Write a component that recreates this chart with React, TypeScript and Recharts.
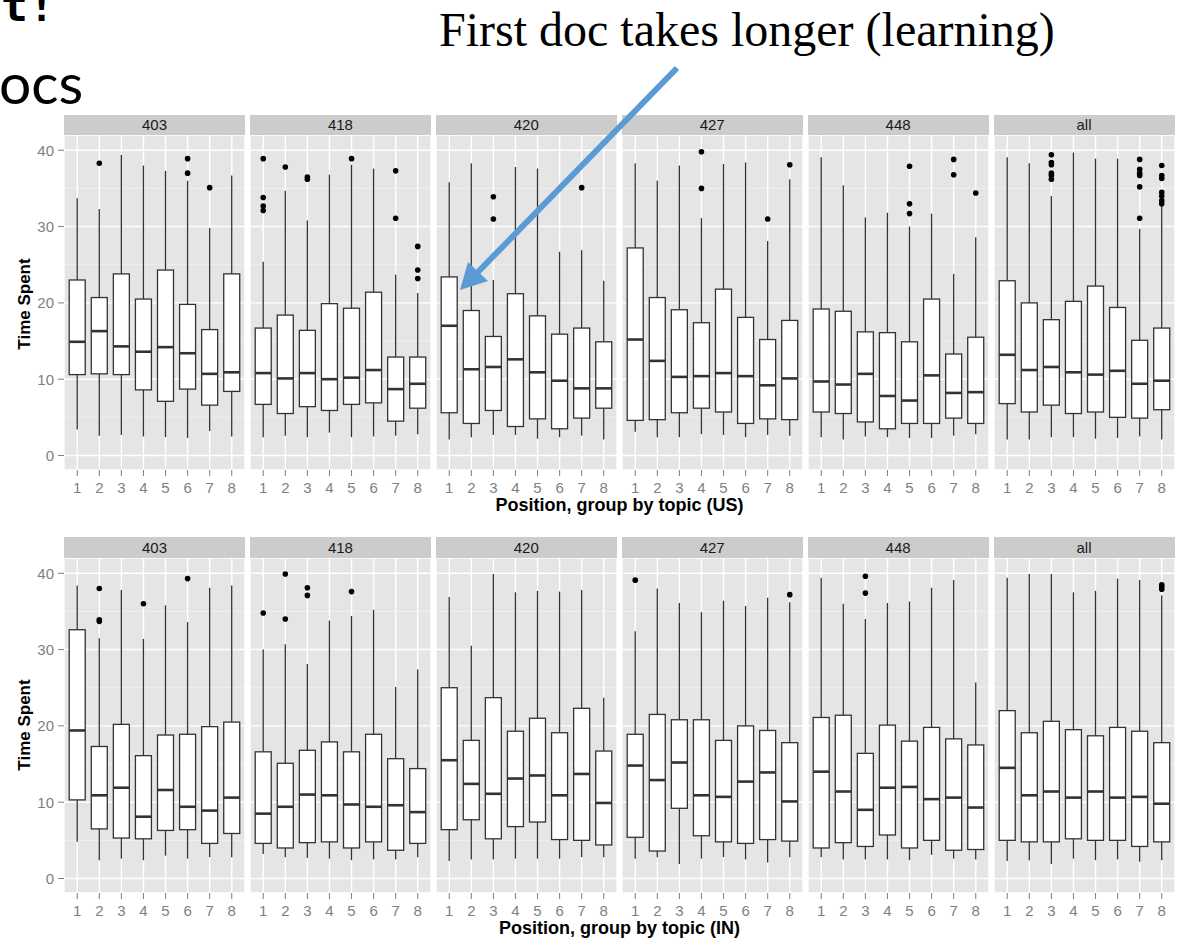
import { ComposedChart, Bar, Scatter, XAxis, YAxis, CartesianGrid } from "recharts";

// Each box: [lower whisker, Q1, median, Q3, upper whisker] for positions 1..8
const positions = [1, 2, 3, 4, 5, 6, 7, 8];
const topics = ["403", "418", "420", "427", "448", "all"];
const yTicks = [0, 10, 20, 30, 40];
const yMinorTicks = [5, 15, 25, 35];

// US group
const us403 = [
  [3.4, 10.6, 14.9, 23.0, 33.7],
  [2.6, 10.7, 16.3, 20.7, 32.3],
  [2.7, 10.6, 14.3, 23.8, 39.4],
  [2.5, 8.6, 13.6, 20.5, 38.0],
  [2.4, 7.1, 14.2, 24.3, 37.3],
  [2.3, 8.7, 13.4, 19.8, 36.0],
  [3.2, 6.6, 10.7, 16.5, 29.8],
  [2.5, 8.4, 10.9, 23.8, 36.7],
];
const us418 = [
  [2.4, 6.7, 10.8, 16.7, 25.4],
  [2.6, 5.5, 10.1, 18.4, 34.7],
  [2.4, 6.4, 10.8, 16.4, 30.8],
  [3.0, 5.9, 10.0, 19.9, 36.8],
  [2.4, 6.7, 10.2, 19.3, 38.1],
  [2.5, 6.9, 11.2, 21.4, 37.6],
  [2.6, 4.5, 8.7, 12.9, 23.7],
  [2.8, 6.2, 9.4, 12.9, 21.3],
];
const us420 = [
  [2.1, 5.6, 17.0, 23.4, 35.8],
  [2.4, 4.2, 11.3, 19.0, 38.3],
  [2.7, 5.9, 11.6, 15.6, 23.0],
  [2.7, 3.8, 12.6, 21.2, 37.8],
  [2.2, 4.8, 10.9, 18.3, 37.6],
  [2.4, 3.5, 9.8, 15.9, 26.7],
  [2.6, 4.9, 8.8, 16.7, 26.9],
  [2.1, 6.2, 8.8, 14.9, 22.9],
];
const us427 = [
  [3.1, 4.6, 15.2, 27.2, 38.3],
  [2.4, 4.7, 12.4, 20.7, 36.0],
  [2.4, 5.6, 10.3, 19.1, 38.0],
  [2.8, 6.2, 10.4, 17.4, 31.1],
  [2.7, 5.7, 10.8, 21.8, 38.2],
  [2.4, 4.2, 10.4, 18.1, 38.4],
  [2.7, 4.8, 9.2, 15.2, 28.1],
  [2.6, 4.7, 10.1, 17.7, 36.2],
];
const us448 = [
  [2.4, 5.7, 9.7, 19.2, 39.1],
  [2.1, 5.5, 9.3, 18.9, 35.4],
  [2.5, 4.4, 10.7, 16.2, 31.2],
  [2.4, 3.5, 7.8, 16.1, 31.8],
  [2.3, 4.2, 7.2, 14.9, 30.0],
  [2.3, 4.2, 10.5, 20.5, 31.7],
  [2.6, 4.9, 8.2, 13.3, 23.8],
  [2.8, 4.2, 8.3, 15.5, 28.6],
];
const usAll = [
  [2.1, 6.8, 13.2, 22.9, 39.1],
  [2.1, 5.7, 11.2, 20.0, 38.3],
  [2.4, 6.6, 11.6, 17.8, 34.0],
  [2.4, 5.5, 10.9, 20.2, 39.7],
  [2.2, 5.7, 10.6, 22.2, 38.9],
  [2.3, 5.0, 11.1, 19.4, 38.9],
  [2.5, 4.9, 9.4, 15.1, 29.7],
  [2.1, 6.0, 9.8, 16.7, 32.7],
];

// outliers: [position, value]
const us403Out = [[2, 38.3], [6, 38.9], [6, 37.0], [7, 35.1]];
const us418Out = [
  [1, 38.9], [1, 33.8], [1, 32.7], [1, 32.1], [2, 37.8], [3, 36.5], [3, 36.2],
  [5, 38.9], [7, 37.3], [7, 31.1], [8, 27.4], [8, 24.3], [8, 23.2],
];
const us420Out = [[3, 33.9], [3, 31.0], [7, 35.1]];
const us427Out = [[4, 39.8], [4, 35.0], [7, 31.0], [8, 38.1]];
const us448Out = [[5, 37.9], [5, 33.0], [5, 31.7], [7, 38.8], [7, 36.8], [8, 34.4]];
const usAllOut = [
  [3, 39.4], [3, 38.4], [3, 38.1], [3, 37.0], [3, 36.7], [3, 36.2],
  [7, 38.8], [7, 37.5], [7, 37.0], [7, 36.7], [7, 35.2], [7, 31.1],
  [8, 38.0], [8, 36.7], [8, 36.3], [8, 34.5], [8, 34.0], [8, 33.4], [8, 33.0],
];

// IN group
const in403 = [
  [4.8, 10.3, 19.4, 32.6, 38.4],
  [2.4, 6.5, 10.9, 17.3, 31.5],
  [2.6, 5.3, 11.9, 20.2, 37.8],
  [2.4, 5.2, 8.1, 16.1, 31.4],
  [3.0, 6.3, 11.6, 18.8, 35.8],
  [2.6, 6.4, 9.4, 18.9, 33.6],
  [2.8, 4.6, 8.9, 19.9, 38.1],
  [2.8, 5.9, 10.6, 20.5, 38.4],
];
const in418 = [
  [3.2, 4.6, 8.5, 16.6, 30.0],
  [2.8, 4.0, 9.4, 15.1, 30.7],
  [2.7, 4.7, 11.0, 16.8, 28.1],
  [2.6, 4.8, 10.9, 17.9, 33.8],
  [2.4, 4.0, 9.7, 16.6, 34.4],
  [2.5, 4.8, 9.4, 18.9, 35.2],
  [2.5, 3.7, 9.6, 15.7, 25.1],
  [2.8, 4.6, 8.7, 14.4, 27.4],
];
const in420 = [
  [2.3, 6.4, 15.5, 25.0, 36.9],
  [2.5, 7.7, 12.4, 18.1, 30.5],
  [2.5, 5.2, 11.1, 23.7, 39.9],
  [2.6, 6.8, 13.1, 19.3, 37.5],
  [2.6, 7.4, 13.5, 21.0, 37.7],
  [2.6, 5.1, 10.9, 19.1, 37.6],
  [2.8, 5.0, 13.7, 22.3, 37.8],
  [2.8, 4.4, 9.9, 16.7, 23.7],
];
const in427 = [
  [2.6, 5.4, 14.8, 18.9, 32.4],
  [2.8, 3.6, 12.9, 21.5, 38.0],
  [1.9, 9.2, 15.2, 20.8, 36.1],
  [2.6, 5.6, 10.9, 20.8, 34.9],
  [2.8, 4.8, 10.7, 18.1, 36.4],
  [2.5, 4.6, 12.7, 20.0, 35.7],
  [2.1, 5.1, 13.9, 19.4, 36.8],
  [2.8, 4.9, 10.1, 17.8, 36.2],
];
const in448 = [
  [2.8, 4.0, 14.0, 21.1, 39.4],
  [2.5, 4.7, 11.4, 21.4, 36.0],
  [2.5, 4.2, 9.0, 16.4, 34.0],
  [2.5, 5.7, 11.9, 20.1, 36.1],
  [2.4, 4.0, 12.0, 18.0, 36.3],
  [3.1, 5.0, 10.4, 19.8, 38.1],
  [2.6, 3.7, 10.6, 18.3, 39.1],
  [2.5, 3.8, 9.3, 17.5, 25.7],
];
const inAll = [
  [2.3, 5.0, 14.5, 22.0, 39.4],
  [2.4, 4.8, 10.9, 19.1, 39.9],
  [1.9, 4.8, 11.4, 20.6, 39.9],
  [2.6, 5.2, 10.6, 19.5, 37.5],
  [2.4, 5.0, 11.4, 18.7, 37.7],
  [2.5, 5.0, 10.6, 19.8, 39.3],
  [2.2, 4.2, 10.7, 19.3, 39.1],
  [2.4, 4.8, 9.8, 17.8, 37.1],
];

const in403Out = [[2, 38.0], [2, 33.9], [2, 33.7], [4, 36.0], [6, 39.3]];
const in418Out = [[1, 34.8], [2, 39.9], [2, 34.0], [3, 38.1], [3, 37.1], [5, 37.6]];
const in420Out: number[][] = [];
const in427Out = [[1, 39.1], [8, 37.2]];
const in448Out = [[3, 39.6], [3, 37.4]];
const inAllOut = [[8, 38.5], [8, 38.2], [8, 37.9]];

const usBoxes = [us403, us418, us420, us427, us448, usAll];
const usOutliers = [us403Out, us418Out, us420Out, us427Out, us448Out, usAllOut];
const inBoxes = [in403, in418, in420, in427, in448, inAll];
const inOutliers = [in403Out, in418Out, in420Out, in427Out, in448Out, inAllOut];

const FONT = "'Liberation Sans', Arial, Helvetica, sans-serif";
const PANEL_W = 181;
const PANEL_STEP = 185.9;
const PANEL_X0 = 64;
const PLOT_H = 335;
const AXIS_H = 30;
const Y_AXIS_W = 64;

const tickStyle = { fill: "#7f7f7f", fontSize: 15, fontFamily: FONT };

// whiskers, box and median drawn inside the range bar [lo, hi]
function BoxShape(props: any) {
  const { x, y, width, height, payload } = props;
  const { lo, q1, med, q3, hi } = payload;
  const k = height / (hi - lo);
  const py = (v: number) => y + (hi - v) * k;
  const cx = x + width / 2;
  return (
    <g>
      <line x1={cx} x2={cx} y1={py(hi)} y2={py(q3)} stroke="#333333" strokeWidth={1.3} />
      <line x1={cx} x2={cx} y1={py(q1)} y2={py(lo)} stroke="#333333" strokeWidth={1.3} />
      <rect x={x} y={py(q3)} width={width} height={py(q1) - py(q3)} fill="#ffffff" stroke="#333333" strokeWidth={1.3} />
      <line x1={x} x2={x + width} y1={py(med)} y2={py(med)} stroke="#333333" strokeWidth={2.6} />
    </g>
  );
}

function OutlierDot(props: any) {
  return <circle cx={props.cx} cy={props.cy} r={2.8} fill="#000000" />;
}

function Panel({ boxes, outliers, col, top }: { boxes: number[][]; outliers: number[][]; col: number; top: number }) {
  const showY = col === 0;
  const yw = showY ? Y_AXIS_W : 0;
  const data = positions.map((pos, i) => ({
    pos,
    lo: boxes[i][0],
    q1: boxes[i][1],
    med: boxes[i][2],
    q3: boxes[i][3],
    hi: boxes[i][4],
  }));
  const outData = outliers.map(([pos, v]) => ({ pos, v }));
  const left = PANEL_X0 + col * PANEL_STEP - yw;
  return (
    <div style={{ position: "absolute", left, top }}>
      <ComposedChart
        width={PANEL_W + yw}
        height={PLOT_H + AXIS_H}
        data={data}
        margin={{ top: 0, right: 0, bottom: 0, left: 0 }}
      >
        <CartesianGrid
          fill="#e5e5e5"
          fillOpacity={1}
          vertical={false}
          horizontalValues={yMinorTicks}
          stroke="#f2f2f2"
          strokeWidth={0.8}
        />
        <CartesianGrid stroke="#ffffff" strokeWidth={1.4} />
        <XAxis
          type="number"
          dataKey="pos"
          domain={[0.4, 8.6]}
          ticks={positions}
          interval={0}
          allowDataOverflow
          axisLine={false}
          tickLine={{ stroke: "#7f7f7f" }}
          tickSize={6}
          tickMargin={6}
          height={AXIS_H}
          tick={tickStyle}
        />
        <YAxis
          type="number"
          domain={[-1.9, 42]}
          ticks={yTicks}
          interval={0}
          allowDataOverflow
          hide={!showY}
          width={yw}
          axisLine={false}
          tickLine={{ stroke: "#7f7f7f" }}
          tickSize={6}
          tickMargin={4}
          tick={tickStyle}
        />
        <Bar
          dataKey={(d: any) => [d.lo, d.hi]}
          barSize={16}
          shape={BoxShape}
          isAnimationActive={false}
        />
        {outData.length > 0 && (
          <Scatter data={outData} dataKey="v" shape={OutlierDot} isAnimationActive={false} />
        )}
      </ComposedChart>
    </div>
  );
}

function Strip({ label, col, top, height }: { label: string; col: number; top: number; height: number }) {
  return (
    <div
      style={{
        position: "absolute",
        left: PANEL_X0 + col * PANEL_STEP,
        top,
        width: PANEL_W,
        height,
        background: "#cccccc",
        color: "#1a1a1a",
        fontFamily: FONT,
        fontSize: 15,
        lineHeight: `${height}px`,
        textAlign: "center",
      }}
    >
      {label}
    </div>
  );
}

function Row({ boxes, outliers, stripTop, stripH, plotTop, xTitle, xTitleY, yTitleY }: any) {
  return (
    <>
      {topics.map((t, i) => (
        <Strip key={"s" + t} label={t} col={i} top={stripTop} height={stripH} />
      ))}
      {topics.map((t, i) => (
        <Panel key={"p" + t} boxes={boxes[i]} outliers={outliers[i]} col={i} top={plotTop} />
      ))}
      <div
        style={{
          position: "absolute",
          left: PANEL_X0,
          width: 1175 - PANEL_X0,
          top: xTitleY - 11,
          height: 22,
          lineHeight: "22px",
          textAlign: "center",
          fontFamily: FONT,
          fontWeight: "bold",
          fontSize: 18,
          color: "#000000",
        }}
      >
        {xTitle}
      </div>
      <div
        style={{
          position: "absolute",
          left: 25 - 60,
          top: yTitleY - 11,
          width: 120,
          height: 22,
          lineHeight: "22px",
          textAlign: "center",
          transform: "rotate(-90deg)",
          fontFamily: FONT,
          fontWeight: "bold",
          fontSize: 17,
          color: "#000000",
          whiteSpace: "nowrap",
        }}
      >
        Time Spent
      </div>
    </>
  );
}

export default function App() {
  return (
    <div
      style={{
        position: "absolute",
        left: 0,
        top: 0,
        width: 1178,
        height: 943,
        background: "#ffffff",
        overflow: "hidden",
      }}
    >
      <Row
        boxes={usBoxes}
        outliers={usOutliers}
        stripTop={115}
        stripH={20}
        plotTop={135}
        xTitle="Position, group by topic (US)"
        xTitleY={505}
        yTitleY={304}
      />
      <Row
        boxes={inBoxes}
        outliers={inOutliers}
        stripTop={537}
        stripH={21}
        plotTop={558}
        xTitle="Position, group by topic (IN)"
        xTitleY={928}
        yTitleY={725}
      />
      <svg
        width={1178}
        height={943}
        style={{ position: "absolute", left: 0, top: 0, pointerEvents: "none" }}
      >
        {/* slide heading remnants at the top-left edge */}
        <text
          x={1}
          y={21}
          fontFamily="'DejaVu Sans Mono', 'Liberation Mono', monospace"
          fontWeight="bold"
          fontSize={45}
          fill="#000"
        >
          t!
        </text>
        <text x={-1} y={104} fontFamily="Lato, 'Open Sans', sans-serif" fontSize={57} fill="#000">
          ocs
        </text>
        <text x={439} y={46} fontFamily="'Liberation Serif', 'Times New Roman', serif" fontSize={48} fill="#000">
          First doc takes longer (learning)
        </text>
        <line x1={677} y1={68} x2={477} y2={273} stroke="#5b9bd5" strokeWidth={6} />
        <polygon points="460,290 488,281 468,262" fill="#5b9bd5" />
      </svg>
    </div>
  );
}
